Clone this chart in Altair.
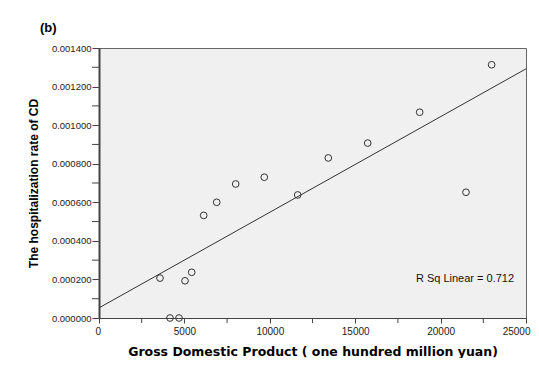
import altair as alt
import pandas as pd

gdp = [3571, 4157, 4684, 5035, 5427, 6130, 6891, 8003, 9678, 11633, 13425, 15731, 18775, 21487, 22990]
rate = [0.000207, 0.0, 0.0, 0.000193, 0.000237, 0.000532, 0.000600, 0.000695, 0.000730,
        0.000638, 0.000830, 0.000907, 0.001067, 0.000652, 0.001313]

x_major = [0, 5000, 10000, 15000, 20000, 25000]
x_minor = [2500, 7500, 12500, 17500, 22500]
y_major = [0.0, 0.0002, 0.0004, 0.0006, 0.0008, 0.0010, 0.0012, 0.0014]
y_minor = [0.0001, 0.0003, 0.0005, 0.0007, 0.0009, 0.0011, 0.0013]

note_text = ["R Sq Linear = 0.712"]
note_x = [24300]
note_y = [0.000200]

df = pd.DataFrame({"gdp": gdp, "rate": rate})
note = pd.DataFrame({"t": note_text, "x": note_x, "y": note_y})
xmin_df = pd.DataFrame({"v": x_minor})
ymin_df = pd.DataFrame({"v": y_minor})

xscale = alt.Scale(domain=[0, 25000], nice=False, zero=True)
yscale = alt.Scale(domain=[0, 0.0014], nice=False)

xaxis = alt.Axis(
    values=x_major, format="d",
    title="Gross Domestic Product ( one hundred million yuan)",
    titleFont="DejaVu Sans", titleFontSize=12.5, titleFontWeight="bold", titleColor="#000",
    titlePadding=9,
    labelFont="Liberation Sans", labelFontSize=10, labelColor="#222", labelPadding=3,
    tickSize=5, tickColor="#444", domainColor="#444", domainWidth=1, grid=False,
    labelOverlap=False, labelFlush=True, labelFlushOffset=4,
)
yaxis = alt.Axis(
    values=y_major, format=".6f",
    title="The hospitalization rate of CD",
    titleFont="Liberation Sans", titleFontSize=12, titleFontWeight="bold", titleColor="#000",
    titlePadding=11,
    labelFont="Liberation Sans", labelFontSize=9.5, labelColor="#222", labelPadding=1,
    tickSize=7, tickColor="#444", domainColor="#444", domainWidth=2, grid=False,
    labelOverlap=False, labelFlush=False,
)

points = alt.Chart(df).mark_point(
    shape="circle", filled=False, size=45, stroke="#333", strokeWidth=1, opacity=1
).encode(
    x=alt.X("gdp:Q", scale=xscale, axis=xaxis),
    y=alt.Y("rate:Q", scale=yscale, axis=yaxis),
)

line = alt.Chart(df).transform_regression(
    "gdp", "rate", extent=[0, 25000]
).mark_line(color="#333", strokeWidth=1).encode(
    x=alt.X("gdp:Q", scale=xscale, axis=xaxis),
    y=alt.Y("rate:Q", scale=yscale, axis=yaxis),
)

xminor = alt.Chart(xmin_df).mark_rule(color="#444", strokeWidth=1).encode(
    x=alt.X("v:Q", scale=xscale, axis=xaxis),
    y=alt.value(270), y2=alt.value(275),
)
yminor = alt.Chart(ymin_df).mark_rule(color="#444", strokeWidth=1).encode(
    y=alt.Y("v:Q", scale=yscale, axis=yaxis),
    x=alt.value(-7), x2=alt.value(0),
)

text = alt.Chart(note).mark_text(
    align="right", baseline="middle", font="Liberation Sans", fontSize=11, color="#111"
).encode(
    x=alt.X("x:Q", scale=xscale, axis=xaxis),
    y=alt.Y("y:Q", scale=yscale, axis=yaxis),
    text="t:N",
)

chart = alt.layer(points, line, xminor, yminor, text).properties(
    width=427, height=270,
    background="white",
    title=alt.TitleParams("(b)", anchor="start", frame="group", font="Liberation Sans",
                          fontSize=13, fontWeight="bold", color="#000", dx=-59, offset=8),
    autosize=alt.AutoSizeParams(type="none"),
    padding={"left": 91, "top": 40, "right": 5, "bottom": 40},
).configure_view(
    fill="#f0f0f0", stroke="#666", strokeWidth=1
)

chart.save("out.html", embed_options={"renderer": "svg", "actions": False})
